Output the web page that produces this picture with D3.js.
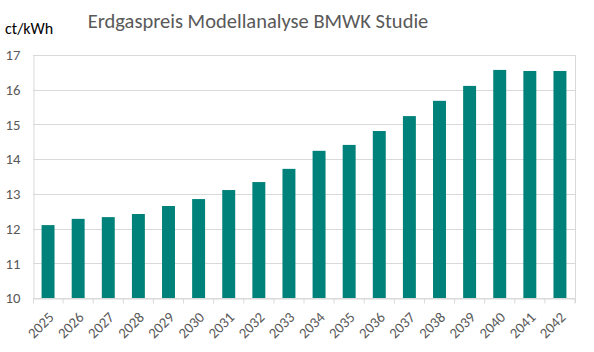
<!DOCTYPE html>
<html>
<head>
<meta charset="utf-8">
<script src="https://cdn.jsdelivr.net/npm/d3@7"></script>
<style>
  body { margin: 0; background: #fff; }
  svg text { font-family: Carlito, Lato, "Open Sans", sans-serif; }
</style>
</head>
<body>
<div id="chart"></div>
<script>
const years = ['2025','2026','2027','2028','2029','2030','2031','2032','2033',
               '2034','2035','2036','2037','2038','2039','2040','2041','2042'];
const prices = [12.10, 12.28, 12.33, 12.42, 12.65, 12.85, 13.11, 13.34, 13.72,
                14.24, 14.41, 14.81, 15.24, 15.68, 16.11, 16.57, 16.54, 16.54];
const yTicks = [10, 11, 12, 13, 14, 15, 16, 17];

const width = 594, height = 352;
const margin = {top: 55, right: 19, bottom: 54, left: 33};

const svg = d3.select('#chart').append('svg')
    .attr('width', width)
    .attr('height', height);

const x = d3.scaleBand()
    .domain(years)
    .range([margin.left, width - margin.right])
    .paddingInner(0.57)
    .paddingOuter(0.285);

const y = d3.scaleLinear()
    .domain([10, 17])
    .range([height - margin.bottom, margin.top]);

// gridlines
svg.append('g')
    .selectAll('line')
    .data(yTicks)
    .join('line')
    .attr('x1', margin.left)
    .attr('x2', width - margin.right)
    .attr('y1', d => Math.round(y(d)) + 0.5)
    .attr('y2', d => Math.round(y(d)) + 0.5)
    .attr('stroke', '#d9d9d9')
    .attr('stroke-width', 1);

// right border of plot area
svg.append('line')
    .attr('x1', width - margin.right + 0.5)
    .attr('x2', width - margin.right + 0.5)
    .attr('y1', margin.top)
    .attr('y2', height - margin.bottom + 5)
    .attr('stroke', '#d9d9d9');

// bars
svg.append('g')
    .selectAll('rect')
    .data(years)
    .join('rect')
    .attr('x', d => x(d))
    .attr('width', x.bandwidth())
    .attr('y', (d, i) => y(prices[i]))
    .attr('height', (d, i) => y(10) - y(prices[i]))
    .attr('fill', '#00827a');

// y axis
const yAxis = svg.append('g')
    .attr('transform', `translate(${margin.left + 0.5},0)`)
    .call(d3.axisLeft(y).tickValues(yTicks).tickFormat(d3.format('d')).tickSize(0).tickPadding(13));
yAxis.attr('font-family', null);
yAxis.select('.domain').attr('stroke', '#d9d9d9');
yAxis.selectAll('text')
    .attr('fill', '#595959')
    .style('font-size', '14.7px');

// x axis
const step = x.step();
const xAxis = svg.append('g')
    .attr('transform', `translate(0,${Math.round(y(10)) + 0.5})`)
    .call(d3.axisBottom(x).tickSize(0));
xAxis.attr('font-family', null);
xAxis.select('.domain').attr('stroke', '#d9d9d9');
xAxis.selectAll('.tick')
    .append('line')
    .attr('x1', step / 2)
    .attr('x2', step / 2)
    .attr('y1', 0)
    .attr('y2', 5)
    .attr('stroke', '#d9d9d9');
xAxis.append('line')
    .attr('x1', margin.left + 0.5)
    .attr('x2', margin.left + 0.5)
    .attr('y1', 0)
    .attr('y2', 5)
    .attr('stroke', '#d9d9d9');
xAxis.selectAll('.tick text')
    .attr('fill', '#595959')
    .style('font-size', '14.7px')
    .attr('text-anchor', 'end')
    .attr('x', 0)
    .attr('y', 0)
    .attr('dy', '0.35em')
    .attr('transform', 'translate(3,16) rotate(-45)');

// title
svg.append('text')
    .attr('x', 258)
    .attr('y', 28)
    .attr('text-anchor', 'middle')
    .attr('fill', '#595959')
    .style('font-size', '20.5px')
    .text('Erdgaspreis Modellanalyse BMWK Studie');

// unit label
svg.append('text')
    .attr('x', 5)
    .attr('y', 34)
    .attr('fill', '#000')
    .style('font-size', '16px')
    .text('ct/kWh');
</script>
</body>
</html>
